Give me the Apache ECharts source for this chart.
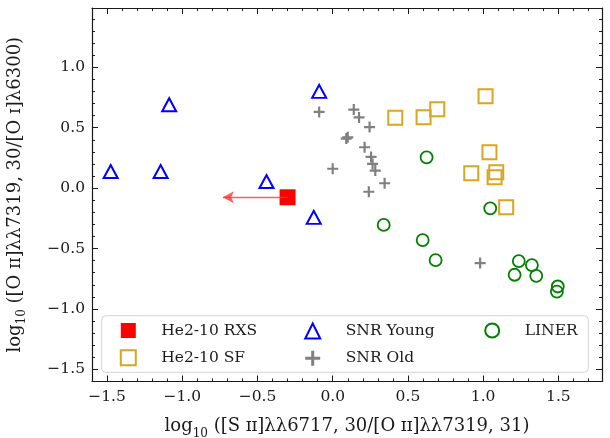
<!DOCTYPE html>
<html>
<head>
<meta charset="utf-8">
<script src="https://cdn.jsdelivr.net/npm/echarts@6/dist/echarts.min.js"></script>
<style>
  html, body { margin: 0; padding: 0; background: #fff; }
  #chart { width: 610px; height: 438px; }
</style>
</head>
<body>
<div id="chart"></div>
<script>
'use strict';

// data (x = log S II / O II, y = log O II / O I)
const rxs = [[-0.30, -0.076]];
const rxsArrowTo = -0.73;   // upper limit arrow end
const sf = [
  [0.416, 0.582], [0.604, 0.587], [0.695, 0.653], [1.016, 0.759], [1.042, 0.297],
  [0.921, 0.123], [1.087, 0.131], [1.076, 0.090], [1.153, -0.159]
];
const snrYoung = [
  [-1.476, 0.137], [-1.144, 0.137], [-1.087, 0.690], [-0.440, 0.054], [-0.090, 0.800], [-0.126, -0.242]
];
const snrOld = [
  [-0.090, 0.630], [0.140, 0.650], [0.175, 0.585], [0.245, 0.505], [0.090, 0.410], [0.100, 0.420],
  [0.212, 0.338], [0.255, 0.258], [0.265, 0.200], [0.283, 0.145], [0.000, 0.160], [0.345, 0.040],
  [0.240, -0.030], [0.980, -0.620]
];
const liner = [
  [0.624, 0.255], [1.047, -0.167], [0.339, -0.305], [0.598, -0.430], [0.684, -0.596], [1.237, -0.604],
  [1.324, -0.637], [1.209, -0.717], [1.353, -0.726], [1.496, -0.814], [1.490, -0.856]
];

const xTicks = [-1.5, -1.0, -0.5, 0.0, 0.5, 1.0, 1.5];
const yTicks = [-1.5, -1.0, -0.5, 0.0, 0.5, 1.0];
const xRange = [-1.6, 1.79];
const yRange = [-1.6, 1.49];

const FONT = "'DejaVu Serif', 'Liberation Serif', serif";
const INK = '#1a1a1a';

function fmt(v) {
  return (v < 0 ? '\u2212' : '') + Math.abs(v).toFixed(1);
}

function majorAxis(range, ticks, position, showLabel, extra) {
  return Object.assign({
    type: 'value', position: position, min: range[0], max: range[1],
    axisLine: { show: true, onZero: false, lineStyle: { color: INK, width: 1.2 } },
    axisTick: { show: true, inside: true, length: 6, customValues: ticks, lineStyle: { color: INK, width: 1 } },
    axisLabel: { show: showLabel, customValues: ticks, formatter: fmt, margin: 7,
      fontFamily: FONT, fontSize: 15.5, color: INK },
    splitLine: { show: false }
  }, extra || {});
}

function minorAxis(range, position) {
  return {
    type: 'value', position: position, min: range[0], max: range[1], interval: 0.1,
    axisLine: { show: false, onZero: false },
    axisTick: { show: true, inside: true, length: 3, lineStyle: { color: INK, width: 1 } },
    axisLabel: { show: false },
    splitLine: { show: false }
  };
}

function nameStyle(size) {
  return {
    fontFamily: FONT, fontSize: size, color: INK, lineHeight: 26,
    rich: {
      t: { fontFamily: FONT, fontSize: size, color: INK, lineHeight: 26, verticalAlign: 'middle' },
      s: { fontFamily: FONT, fontSize: 12, color: INK, lineHeight: 26, verticalAlign: 'bottom' }
    }
  };
}

const chart = echarts.init(document.getElementById('chart'), null, { renderer: 'canvas' });

const legendBase = {
  orient: 'vertical', padding: 0, itemWidth: 15, itemHeight: 15, itemGap: 10.7,
  top: 322.5, selectedMode: false, z: 10, symbolKeepAspect: true,
  textStyle: { fontFamily: FONT, fontSize: 15.5, color: INK, lineHeight: 15, padding: [0, 0, 0, 20.5] }
};

chart.setOption({
  animation: false,
  backgroundColor: '#fff',
  grid: { left: 92, top: 8, right: 8, bottom: 56.5, containLabel: false, outerBoundsMode: 'none' },
  xAxis: [
    majorAxis(xRange, xTicks, 'bottom', true, {
      name: '{t|log}{s|10}{t| ([S \u026a\u026a]\u03bb\u03bb6717, 30/[O \u026a\u026a]\u03bb\u03bb7319, 31)}',
      nameLocation: 'middle', nameGap: 32, nameTextStyle: nameStyle(18)
    }),
    minorAxis(xRange, 'bottom'),
    majorAxis(xRange, xTicks, 'top', false),
    minorAxis(xRange, 'top')
  ],
  yAxis: [
    majorAxis(yRange, yTicks, 'left', true, {
      name: '{t|log}{s|10}{t| ([O \u026a\u026a]\u03bb\u03bb7319, 30/[O \u026a]\u03bb6300)}',
      nameLocation: 'middle', nameGap: 64, nameRotate: 90, nameTextStyle: nameStyle(18)
    }),
    minorAxis(yRange, 'left'),
    majorAxis(yRange, yTicks, 'right', false),
    minorAxis(yRange, 'right')
  ],
  legend: [
    Object.assign({}, legendBase, { left: 119.8, data: ['He2-10 RXS', 'He2-10 SF'] }),
    Object.assign({}, legendBase, { left: 304.2, data: ['SNR Young', 'SNR Old'] }),
    Object.assign({}, legendBase, { left: 484.2, itemWidth: 14, itemHeight: 14, data: ['LINER'] })
  ],
  graphic: [{
    type: 'rect', z: 5, silent: true,
    shape: { x: 101.7, y: 315.7, width: 486.6, height: 56.6, r: 4 },
    style: { fill: 'rgba(255,255,255,0.8)', stroke: '#d4d4d4', lineWidth: 1 }
  }],
  series: [
    {
      name: 'He2-10 RXS', type: 'scatter', data: rxs, z: 4,
      symbol: 'rect', symbolSize: 16,
      itemStyle: { color: '#ff0000', opacity: 1 },
      markLine: {
        silent: true, animation: false, symbol: ['none', 'arrow'], symbolSize: [9, 11],
        label: { show: false },
        lineStyle: { color: '#ff3333', width: 1.3, type: 'solid', opacity: 0.8 },
        data: [[{ coord: rxs[0] }, { coord: [rxsArrowTo, rxs[0][1]] }]]
      }
    },
    {
      name: 'He2-10 SF', type: 'scatter', data: sf, z: 3,
      symbol: 'rect', symbolSize: 14,
      itemStyle: { color: 'rgba(0,0,0,0)', borderColor: '#daa520', borderWidth: 2, opacity: 1 }
    },
    {
      name: 'SNR Young', type: 'scatter', data: snrYoung, z: 3,
      symbol: 'triangle', symbolSize: [14, 13],
      itemStyle: { color: 'rgba(0,0,0,0)', borderColor: '#0000ff', borderWidth: 2, opacity: 1 }
    },
    {
      name: 'SNR Old', type: 'scatter', data: snrOld, z: 3,
      symbol: 'path://M4,0H6V4H10V6H6V10H4V6H0V4H4Z', symbolSize: 11,
      itemStyle: { color: '#808080', opacity: 1 }
    },
    {
      name: 'LINER', type: 'scatter', data: liner, z: 3,
      symbol: 'circle', symbolSize: 12,
      itemStyle: { color: 'rgba(0,0,0,0)', borderColor: '#008000', borderWidth: 1.8, opacity: 1 }
    }
  ]
});
</script>
</body>
</html>
